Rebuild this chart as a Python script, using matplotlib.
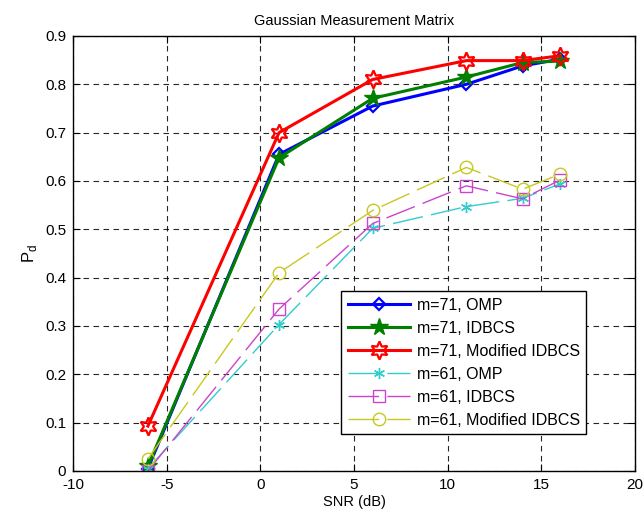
import matplotlib
matplotlib.use("Agg")
import matplotlib.pyplot as plt

snr = [-6, 1, 6, 11, 14, 16]
omp71 = [0.005, 0.655, 0.755, 0.800, 0.838, 0.852]
idbcs71 = [0.010, 0.648, 0.771, 0.815, 0.845, 0.848]
mod71 = [0.093, 0.700, 0.810, 0.849, 0.849, 0.859]
omp61 = [0.005, 0.303, 0.502, 0.547, 0.564, 0.594]
idbcs61 = [0.000, 0.335, 0.512, 0.590, 0.563, 0.602]
mod61 = [0.025, 0.410, 0.539, 0.628, 0.583, 0.614]

labels = ["m=71, OMP", "m=71, IDBCS", "m=71, Modified IDBCS",
          "m=61, OMP", "m=61, IDBCS", "m=61, Modified IDBCS"]

plt.rcParams['font.family'] = ['Liberation Sans', 'DejaVu Sans']
plt.rcParams['axes.unicode_minus'] = False

fig = plt.figure(figsize=(6.43, 5.21), dpi=100)
ax = fig.add_axes([0.1135, 0.096, 0.874, 0.835])

ax.plot(snr, omp71, color='#0000ff', lw=2.2, marker='D', ms=6, mfc='none', mew=1.6, label=labels[0])
ax.plot(snr, idbcs71, color='#007f00', lw=2.2, marker='*', ms=13, mfc='#007f00', mew=1, label=labels[1])
ax.plot(snr, mod71, color='#ff0000', lw=2.2, marker=(6, 1, 0), ms=13, mfc='none', mew=1.6, label=labels[2])
dash = (0, (22, 6))
ax.plot(snr, omp61, color='#33cccc', lw=1, ls=dash, marker=(6, 2, 0), ms=8, mew=1, label=labels[3])
ax.plot(snr, idbcs61, color='#cc44cc', lw=1, ls=dash, marker='s', ms=8, mfc='none', mew=1, label=labels[4])
ax.plot(snr, mod61, color='#c8c820', lw=1, ls=dash, marker='o', ms=9, mfc='none', mew=1, label=labels[5])

ax.set_xlim(-10, 20)
ax.set_ylim(0, 0.9)
ax.set_xticks(range(-10, 21, 5))
ax.set_yticks([i / 10 for i in range(10)])
ax.set_yticklabels(['0'] + ['%.1f' % (i / 10) for i in range(1, 10)])
ax.grid(True, color='black', ls=(0, (5, 4)), lw=0.8, alpha=0.85)
ax.tick_params(direction='in', top=True, right=True, labelsize=11, length=5, pad=5)
for s in ax.spines.values():
    s.set_linewidth(1)

ax.set_title('Gaussian Measurement Matrix', fontsize=10.5, pad=8)
ax.set_xlabel('SNR (dB)', fontsize=10.5, labelpad=2)
ax.set_ylabel('P$_\\mathregular{d}$', fontsize=12)

leg = ax.legend(loc='lower right', bbox_to_anchor=(0.913, 0.085), fontsize=11.5,
                fancybox=False, framealpha=1, edgecolor='black', handlelength=3.9,
                borderpad=0.4, labelspacing=0.5, handletextpad=0.4, borderaxespad=0)
leg.get_frame().set_linewidth(1)

fig.savefig('out.png', dpi=100)
